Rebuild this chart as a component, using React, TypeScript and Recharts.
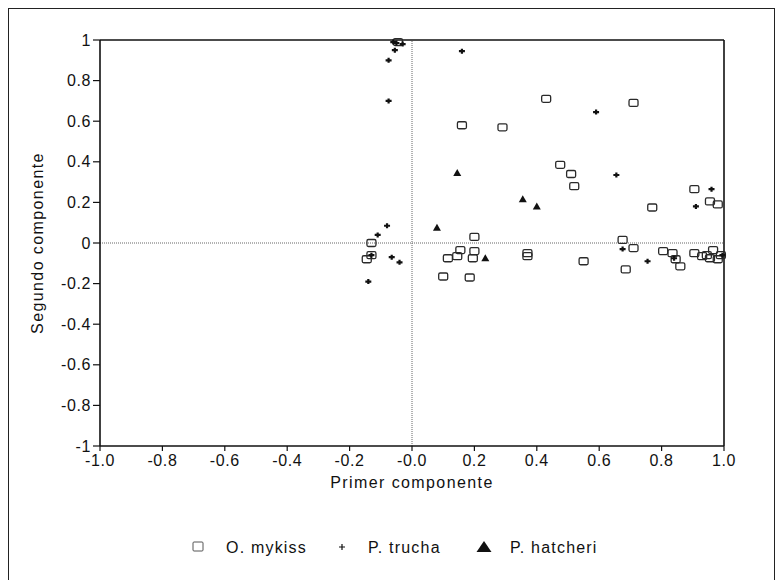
import React from 'react';
import { ScatterChart, Scatter, XAxis, YAxis, ReferenceLine, Legend } from 'recharts';

// valores (primer componente, segundo componente)
const mykiss = [
  { x: 0.43, y: 0.71 }, { x: 0.71, y: 0.69 }, { x: 0.16, y: 0.58 }, { x: 0.29, y: 0.57 },
  { x: 0.475, y: 0.385 }, { x: 0.51, y: 0.34 }, { x: 0.52, y: 0.28 }, { x: 0.905, y: 0.265 },
  { x: 0.955, y: 0.205 }, { x: 0.98, y: 0.19 }, { x: 0.77, y: 0.175 }, { x: 0.2, y: 0.03 },
  { x: 0.675, y: 0.015 }, { x: 0.155, y: -0.035 }, { x: 0.2, y: -0.04 }, { x: 0.145, y: -0.065 },
  { x: 0.115, y: -0.075 }, { x: 0.195, y: -0.075 }, { x: 0.37, y: -0.05 }, { x: 0.37, y: -0.065 },
  { x: 0.71, y: -0.025 }, { x: 0.55, y: -0.09 }, { x: 0.1, y: -0.165 }, { x: 0.185, y: -0.17 },
  { x: 0.685, y: -0.13 }, { x: 0.805, y: -0.04 }, { x: 0.835, y: -0.05 }, { x: 0.845, y: -0.08 },
  { x: 0.86, y: -0.115 }, { x: 0.905, y: -0.05 }, { x: 0.93, y: -0.065 }, { x: 0.945, y: -0.06 },
  { x: 0.965, y: -0.035 }, { x: 0.955, y: -0.075 }, { x: 0.98, y: -0.08 }, { x: 0.99, y: -0.06 },
  { x: -0.13, y: 0.0 }, { x: -0.13, y: -0.06 }, { x: -0.145, y: -0.08 }, { x: -0.045, y: 0.99 },
];

const trucha = [
  { x: -0.06, y: 0.99 }, { x: -0.05, y: 0.985 }, { x: -0.03, y: 0.98 }, { x: -0.055, y: 0.95 },
  { x: -0.075, y: 0.9 }, { x: -0.075, y: 0.7 }, { x: 0.16, y: 0.945 }, { x: 0.59, y: 0.645 },
  { x: 0.655, y: 0.335 }, { x: 0.96, y: 0.265 }, { x: 0.91, y: 0.18 }, { x: 0.755, y: -0.09 },
  { x: 0.675, y: -0.03 }, { x: 0.84, y: -0.075 }, { x: 0.995, y: -0.06 }, { x: -0.08, y: 0.085 },
  { x: -0.11, y: 0.04 }, { x: -0.065, y: -0.07 }, { x: -0.04, y: -0.095 }, { x: -0.14, y: -0.19 },
  { x: -0.13, y: -0.06 },
];

const hatcheri = [
  { x: 0.145, y: 0.345 }, { x: 0.355, y: 0.215 }, { x: 0.4, y: 0.18 }, { x: 0.08, y: 0.075 },
  { x: 0.235, y: -0.075 },
];

const xTicks = [-1, -0.8, -0.6, -0.4, -0.2, 0, 0.2, 0.4, 0.6, 0.8, 1];
const yTicks = [-1, -0.8, -0.6, -0.4, -0.2, 0, 0.2, 0.4, 0.6, 0.8, 1];

const FONT = '"Liberation Sans", Arial, sans-serif';
const INK = '#111';

const SquareMark = ({ cx, cy }: any) => (
  <rect x={cx - 4.5} y={cy - 3.5} width={9} height={7} rx={1.5} fill="none" stroke="#2a2a2a" strokeWidth={1.3} />
);

const PlusMark = ({ cx, cy }: any) => (
  <path
    d={`M${cx - 3},${cy} L${cx + 3},${cy} M${cx},${cy - 2.5} L${cx},${cy + 2.5}`}
    stroke={INK}
    strokeWidth={2.2}
  />
);

const TriangleMark = ({ cx, cy }: any) => (
  <polygon points={`${cx},${cy - 4} ${cx + 4},${cy + 3} ${cx - 4},${cy + 3}`} fill={INK} />
);

const LegendBox = () => (
  <svg width={775} height={20} style={{ display: 'block', fontFamily: FONT }}>
    <rect x={193} y={5} width={10} height={9} rx={1} fill="none" stroke="#555" strokeWidth={1} />
    <text x={226} y={10} dy="0.35em" fontSize={16} letterSpacing={1.2} fill={INK}>O. mykiss</text>
    <path d="M339,10 L345,10 M342,7 L342,13" stroke={INK} strokeWidth={1.2} />
    <text x={368} y={10} dy="0.35em" fontSize={16} letterSpacing={1.2} fill={INK}>P. trucha</text>
    <polygon points="484,4 491.5,15 476.5,15" fill={INK} />
    <text x={510} y={10} dy="0.35em" fontSize={16} letterSpacing={1.2} fill={INK}>P. hatcheri</text>
  </svg>
);

const XTitle = ({ viewBox }: any) => (
  <text
    x={viewBox.x + viewBox.width / 2}
    y={viewBox.y + 36}
    dy="0.35em"
    textAnchor="middle"
    fontSize={16}
    letterSpacing={1.4}
    fontFamily={FONT}
    fill={INK}
  >
    Primer componente
  </text>
);

const YTitle = ({ viewBox }: any) => {
  const x = viewBox.x + 7;
  const y = viewBox.y + viewBox.height / 2;
  return (
    <text
      x={x}
      y={y}
      dy="0.35em"
      textAnchor="middle"
      transform={`rotate(-90, ${x}, ${y})`}
      fontSize={16}
      letterSpacing={1.4}
      fontFamily={FONT}
      fill={INK}
    >
      Segundo componente
    </text>
  );
};

export default function App() {
  return (
    <div style={{ position: 'absolute', left: 0, top: 0, width: 775, height: 580, background: '#fff', overflow: 'hidden' }}>
      <div
        style={{
          position: 'absolute',
          left: 8,
          top: 8,
          width: 767,
          height: 580,
          border: '1.5px solid #222',
          boxSizing: 'border-box',
        }}
      />
      <ScatterChart width={775} height={580} margin={{ top: 40, right: 51, bottom: 23, left: 30 }}>
        <XAxis
          type="number"
          dataKey="x"
          domain={[-1, 1]}
          ticks={xTicks}
          interval={0}
          tickFormatter={(v: number) => (v === 0 ? '-0.0' : v.toFixed(1))}
          tick={{ fontSize: 16, fill: INK, fontFamily: FONT, letterSpacing: 0.6 }}
          tickSize={5}
          tickMargin={4}
          axisLine={{ stroke: INK, strokeWidth: 1.6 }}
          tickLine={{ stroke: INK, strokeWidth: 1.2 }}
          height={91}
          label={{ content: XTitle }}
        />
        <YAxis
          type="number"
          dataKey="y"
          domain={[-1, 1]}
          ticks={yTicks}
          interval={0}
          tickFormatter={(v: number) => String(Number(v.toFixed(1)))}
          tick={{ fontSize: 16, fill: INK, fontFamily: FONT, letterSpacing: 0.6 }}
          tickSize={7}
          tickMargin={2}
          axisLine={{ stroke: INK, strokeWidth: 1.6 }}
          tickLine={{ stroke: INK, strokeWidth: 1.2 }}
          width={70}
          label={{ content: YTitle }}
        />
        <ReferenceLine y={1} stroke={INK} strokeWidth={1.6} />
        <ReferenceLine x={1} stroke={INK} strokeWidth={1.6} />
        <ReferenceLine y={0} stroke="#666" strokeWidth={1} strokeDasharray="1 1" />
        <ReferenceLine x={0} stroke="#666" strokeWidth={1} strokeDasharray="1 1" />
        <Legend verticalAlign="bottom" wrapperStyle={{ left: 0, width: 775, height: 20 }} content={() => <LegendBox />} />
        <Scatter name="O. mykiss" data={mykiss} shape={SquareMark} isAnimationActive={false} />
        <Scatter name="P. trucha" data={trucha} shape={PlusMark} isAnimationActive={false} />
        <Scatter name="P. hatcheri" data={hatcheri} shape={TriangleMark} isAnimationActive={false} />
      </ScatterChart>
    </div>
  );
}
